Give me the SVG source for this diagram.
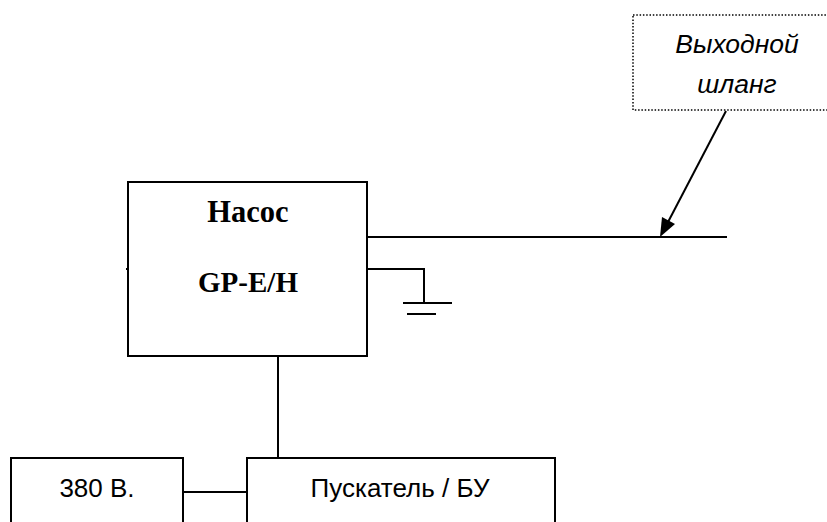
<svg xmlns="http://www.w3.org/2000/svg" width="827" height="522" viewBox="0 0 827 522">
<defs>
<style>
.box{fill:#fff;stroke:#000;stroke-width:2}
.ln{stroke:#000;stroke-width:2;fill:none}
.serif{font-family:"Liberation Serif","Times New Roman",serif;font-weight:bold;font-size:29px;text-anchor:middle;fill:#000}
.sans{font-family:"Liberation Sans",Arial,sans-serif;font-size:26px;text-anchor:middle;fill:#000}
.ital{font-family:"Liberation Sans",Arial,sans-serif;font-style:italic;font-size:26.5px;text-anchor:middle;fill:#000}
</style>
</defs>
<rect width="827" height="522" fill="#fff"/>
<g id="connectors">
<line class="ln" x1="368" y1="237" x2="727" y2="237"/>
<polyline class="ln" points="368,269 424,269 424,303"/>
<line class="ln" x1="403" y1="303" x2="452" y2="303"/>
<line class="ln" x1="407" y1="314" x2="436" y2="314"/>
<line class="ln" x1="278" y1="356" x2="278" y2="458"/>
<line class="ln" x1="183" y1="492" x2="247" y2="492"/>
<line class="ln" x1="726" y1="111" x2="667" y2="224"/>
<path d="M660,237 L662,217 L675,224 Z" fill="#000"/>
<line class="ln" x1="126" y1="269" x2="128" y2="269"/>
</g>
<g id="hose">
<rect x="633" y="15" width="200" height="95" fill="#fff" stroke="#000" stroke-width="1.5" stroke-dasharray="1.5,1.8"/>
<text class="ital" x="737" y="53">Выходной</text>
<text class="ital" x="737" y="93">шланг</text>
</g>
<g id="pump">
<rect class="box" x="128" y="182" width="239" height="174"/>
<text class="serif" x="248" y="222" style="font-size:30.5px">Насос</text>
<text class="serif" x="248" y="292">GP-E/H</text>
</g>
<g id="power">
<rect class="box" x="11" y="458" width="172" height="80"/>
<text class="sans" x="97" y="497">380 В.</text>
</g>
<g id="starter">
<rect class="box" x="247" y="458" width="308" height="80"/>
<text class="sans" x="400" y="497">Пускатель / БУ</text>
</g>
</svg>
